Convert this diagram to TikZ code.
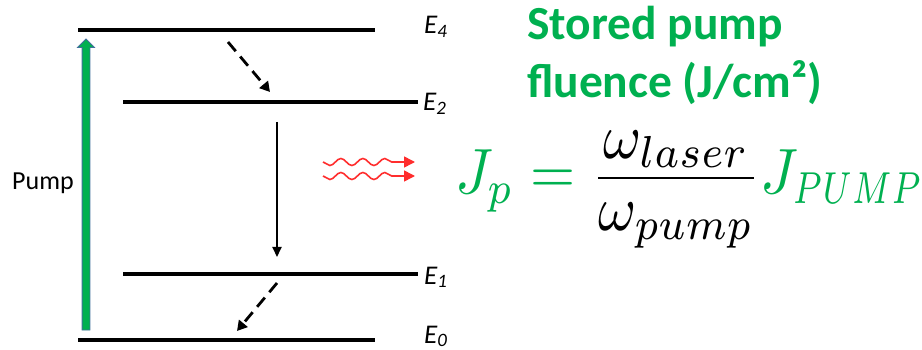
\documentclass[tikz,border=0pt]{standalone}
\usepackage[no-math]{fontspec}
\usepackage{amsmath}
\usepackage{graphicx}
\newfontfamily\calibri{Carlito}
\usetikzlibrary{arrows.meta, shapes.arrows, decorations.pathmorphing, positioning}
\definecolor{pumpgreen}{RGB}{0,176,80}
\definecolor{pumpedge}{RGB}{65,113,156}
\definecolor{photonred}{RGB}{255,45,45}
\DeclareMathSizes{10}{10}{7.3}{5.5}

\begin{document}
\begin{tikzpicture}[
    x=1pt, y=-1pt,
    every node/.style={inner sep=0pt},
    level/.style={line width=3.5pt},
    elabel/.style={font=\calibri\itshape\fontsize{27}{29}\selectfont, anchor=base west},
    pumpbar/.style={single arrow, fill=pumpgreen, draw=pumpedge, line width=0.8pt, inner sep=3.5pt, single arrow head extend=4.5pt, rotate=90},
    decay/.style={line width=2.8pt, dash pattern=on 12pt off 7pt, -{Triangle[length=10pt, width=11pt]}},
    emit/.style={line width=2pt, -{Triangle[length=10pt, width=9pt]}},
    photon/.style={photonred, line width=1.6pt, decorate, decoration={snake, mirror, amplitude=3.5pt, segment length=22pt, post length=14pt}, -{Triangle[length=11pt, width=11pt]}},
    title/.style={font=\calibri\bfseries\fontsize{47.5}{50}\selectfont, text=pumpgreen, anchor=base west}
]
\useasboundingbox (0,0) rectangle (922,350);
% ----- energy levels -----
\coordinate (l4a) at (78,30);   \coordinate (l4b) at (375,30);
\coordinate (l2a) at (123,102); \coordinate (l2b) at (418,102);
\coordinate (l1a) at (123,274); \coordinate (l1b) at (418,274);
\coordinate (l0a) at (78,340);  \coordinate (l0b) at (375,340);
\draw[level] (l4a) -- (l4b);
\draw[level] (l2a) -- (l2b);
\draw[level] (l1a) -- (l1b);
\draw[level] (l0a) -- (l0b);
\node[elabel] (e4) at (424,34) {E\textsubscript{4}};
\node[elabel] (e2) at (423,111) {E\textsubscript{2}};
\node[elabel] (e1) at (424,284) {E\textsubscript{1}};
\node[elabel] (e0) at (424,343) {E\textsubscript{0}};
% ----- pump -----
\node[pumpbar, minimum height=291pt] (pump) at (86,186.5) {};
\node[font=\calibri\fontsize{26}{28}\selectfont, anchor=base west] (pumplbl) at (12,190) {Pump};
% ----- transitions -----
\coordinate (d1s) at (228,42);  \coordinate (d1e) at (270,92);
\coordinate (ls) at (277,122);  \coordinate (le) at (277,257);
\coordinate (d2s) at (277,283); \coordinate (d2e) at (237,331);
\draw[decay] (d1s) -- (d1e);
\draw[emit] (ls) -- (le);
\draw[decay] (d2s) -- (d2e);
% ----- emitted light -----
\coordinate (w1s) at (323,162); \coordinate (w1e) at (415,162);
\coordinate (w2s) at (323,176); \coordinate (w2e) at (415,176);
\draw[photon] (w1s) -- (w1e);
\draw[photon] (w2s) -- (w2e);
% ----- stored fluence -----
\node[title] (stored) at (527,40) {Stored pump};
\node[title] (fluence) at (527,98) {fluence (J/cm²)};
\node[anchor=base west, text=pumpgreen] (eq) at (455,194)
    {\scalebox{5.8}[6.4]{$\displaystyle J_p = {\color{black}\frac{\raisebox{-1.2pt}{$\displaystyle\omega_{laser}$}}{\raisebox{1.2pt}{$\displaystyle\omega_{pump}$}}} J_{\scalebox{0.82}[1]{$\scriptstyle PUMP$}}$}};
\end{tikzpicture}
\end{document}
